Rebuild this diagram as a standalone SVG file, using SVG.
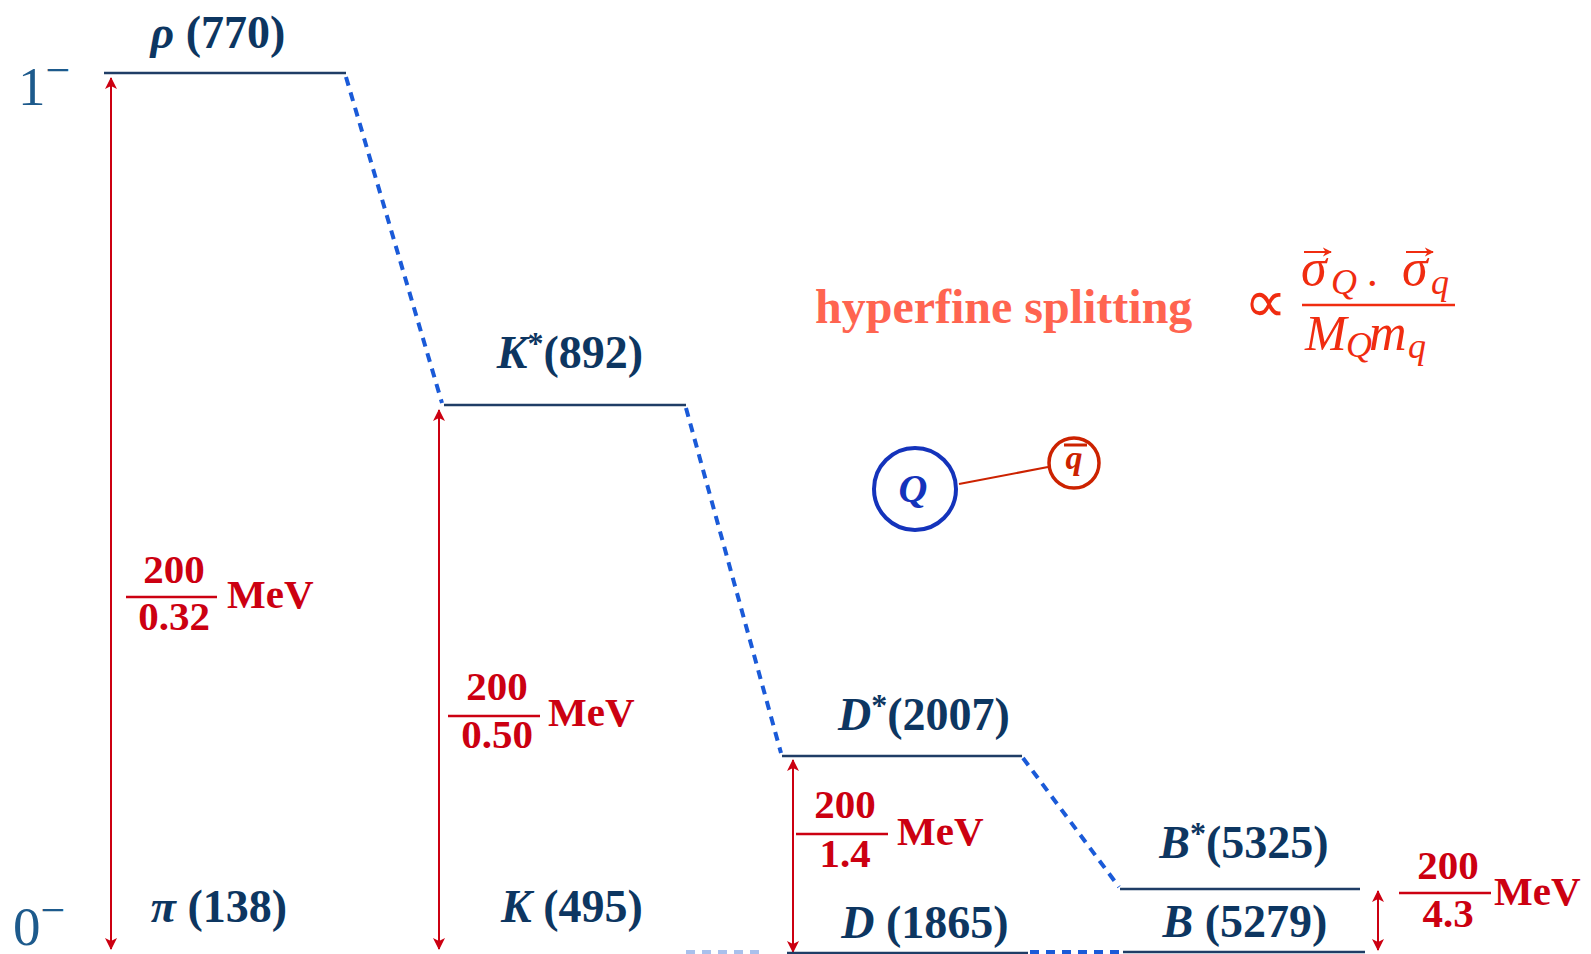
<svg xmlns="http://www.w3.org/2000/svg" width="1591" height="954" viewBox="0 0 1591 954">
<defs>
<marker id="ah" viewBox="0 0 12 12" refX="11" refY="6" markerWidth="12" markerHeight="12" markerUnits="userSpaceOnUse" orient="auto-start-reverse">
<path d="M0,0 L12,6 L0,12 L3,6 Z" fill="#cc0011"/>
</marker>
<marker id="vh" viewBox="0 0 10 10" refX="9" refY="5" markerWidth="9" markerHeight="10" markerUnits="userSpaceOnUse" orient="auto">
<path d="M0,0 L10,5 L0,10 L3,5 Z" fill="#f02c10"/>
</marker>
</defs>
<style>
.lvl{stroke:#1f3d66;stroke-width:2.5;fill:none}
.dash{stroke:#1a5ad8;stroke-width:4;stroke-dasharray:9 7;fill:none}
.lbl{font-family:"Liberation Serif",serif;font-weight:bold;font-size:46px;fill:#0d3661}
.jp{font-family:"Liberation Serif",serif;font-size:55px;fill:#1d5a8c}
.arr{stroke:#cc0011;stroke-width:2;fill:none;marker-start:url(#ah);marker-end:url(#ah)}
.fr{font-family:"Liberation Serif",serif;font-weight:bold;font-size:41px;fill:#cc0011}
.frl{stroke:#cc0011;stroke-width:2.5}
.it{font-style:italic}
.m{font-family:"Liberation Serif",serif;font-style:italic;fill:#f02c10}
.vec{stroke:#f02c10;stroke-width:2;marker-end:url(#vh)}
</style>

<g id="jp-labels">
<text class="jp" x="18" y="105">1<tspan font-size="44" dy="-20">−</tspan></text>
<text class="jp" x="13" y="945">0<tspan font-size="44" dy="-20">−</tspan></text>
</g>

<g id="connectors">
<line class="dash" x1="346" y1="77" x2="442" y2="403"/>
<line class="dash" x1="686" y1="408" x2="781" y2="753"/>
<line class="dash" x1="1023" y1="758" x2="1119" y2="887"/>
<line class="dash" x1="1030" y1="952" x2="1122" y2="952"/>
<line x1="686" y1="952" x2="760" y2="952" stroke="#a9c0ec" stroke-width="4" stroke-dasharray="9 7"/>
<line class="arr" x1="111" y1="78" x2="111" y2="949"/>
<line class="arr" x1="439" y1="410" x2="439" y2="949"/>
<line class="arr" x1="793" y1="760" x2="793" y2="952"/>
<line class="arr" x1="1378" y1="891" x2="1378" y2="950"/>
</g>

<g id="rho">
<line class="lvl" x1="104" y1="73" x2="346" y2="73"/>
<text class="lbl" x="218" y="48" text-anchor="middle"><tspan class="it">ρ</tspan> (770)</text>
</g>
<g id="pi">
<text class="lbl" x="219" y="922" text-anchor="middle"><tspan class="it">π</tspan> (138)</text>
</g>
<g id="kstar">
<line class="lvl" x1="444" y1="405" x2="686" y2="405"/>
<text class="lbl" x="570" y="368" text-anchor="middle"><tspan class="it">K</tspan><tspan font-size="32" dy="-14">*</tspan><tspan dy="14">(892)</tspan></text>
</g>
<g id="k">
<text class="lbl" x="572" y="922" text-anchor="middle"><tspan class="it">K</tspan> (495)</text>
</g>
<g id="dstar">
<line class="lvl" x1="782" y1="756" x2="1022" y2="756"/>
<text class="lbl" x="924" y="730" text-anchor="middle"><tspan class="it">D</tspan><tspan font-size="32" dy="-14">*</tspan><tspan dy="14">(2007)</tspan></text>
</g>
<g id="d">
<line class="lvl" x1="787" y1="953" x2="1028" y2="953"/>
<text class="lbl" x="925" y="938" text-anchor="middle"><tspan class="it">D</tspan> (1865)</text>
</g>
<g id="bstar">
<line class="lvl" x1="1120" y1="889" x2="1360" y2="889"/>
<text class="lbl" x="1244" y="858" text-anchor="middle"><tspan class="it">B</tspan><tspan font-size="32" dy="-14">*</tspan><tspan dy="14">(5325)</tspan></text>
</g>
<g id="b">
<line class="lvl" x1="1123" y1="952" x2="1365" y2="952"/>
<text class="lbl" x="1245" y="937" text-anchor="middle"><tspan class="it">B</tspan> (5279)</text>
</g>

<g id="frac-pi">
<text class="fr" x="174" y="583" text-anchor="middle">200</text>
<line class="frl" x1="126" y1="597" x2="217" y2="597"/>
<text class="fr" x="174" y="630" text-anchor="middle">0.32</text>
<text class="fr" x="227" y="608">MeV</text>
</g>
<g id="frac-k">
<text class="fr" x="497" y="700" text-anchor="middle">200</text>
<line class="frl" x1="448" y1="716" x2="540" y2="716"/>
<text class="fr" x="497" y="748" text-anchor="middle">0.50</text>
<text class="fr" x="548" y="726">MeV</text>
</g>
<g id="frac-d">
<text class="fr" x="845" y="818" text-anchor="middle">200</text>
<line class="frl" x1="796" y1="834" x2="888" y2="834"/>
<text class="fr" x="845" y="867" text-anchor="middle">1.4</text>
<text class="fr" x="897" y="845">MeV</text>
</g>
<g id="frac-b">
<text class="fr" x="1448" y="879" text-anchor="middle" font-size="42">200</text>
<line class="frl" x1="1399" y1="893" x2="1491" y2="893"/>
<text class="fr" x="1448" y="927" text-anchor="middle" font-size="42">4.3</text>
<text class="fr" x="1494" y="905" font-size="43">MeV</text>
</g>

<g id="hyperfine">
<text x="815" y="323" font-family="'Liberation Serif',serif" font-weight="bold" font-size="48" fill="#ff6450">hyperfine splitting</text>
<text x="1244" y="322" font-family="'Liberation Serif',serif" font-size="60" fill="#f02c10">∝</text>
<text class="m" x="1301" y="285" font-size="52">σ</text>
<text class="m" x="1331" y="294" font-size="36">Q</text>
<text x="1365" y="298" font-family="'Liberation Serif',serif" font-size="44" fill="#f02c10">·</text>
<text class="m" x="1402" y="285" font-size="52">σ</text>
<text class="m" x="1431" y="294" font-size="36">q</text>
<line class="vec" x1="1304" y1="252" x2="1331" y2="252"/>
<line class="vec" x1="1406" y1="252" x2="1433" y2="252"/>
<line x1="1302" y1="305" x2="1455" y2="305" stroke="#f02c10" stroke-width="2.5"/>
<text class="m" x="1305" y="350" font-size="50">M</text>
<text class="m" x="1346" y="357" font-size="36">Q</text>
<text class="m" x="1369" y="350" font-size="52">m</text>
<text class="m" x="1408" y="358" font-size="36">q</text>
</g>

<g id="quarks">
<line x1="959" y1="484" x2="1048" y2="467" stroke="#cc2200" stroke-width="2"/>
<g id="Q">
<circle cx="915" cy="489" r="41" fill="none" stroke="#1433bb" stroke-width="4"/>
<text x="913" y="502" text-anchor="middle" font-family="'Liberation Serif',serif" font-weight="bold" font-style="italic" font-size="40" fill="#1433bb">Q</text>
</g>
<g id="qbar">
<circle cx="1074" cy="463" r="25" fill="none" stroke="#cc2200" stroke-width="3.5"/>
<text x="1074" y="469" text-anchor="middle" font-family="'Liberation Serif',serif" font-weight="bold" font-style="italic" font-size="34" fill="#cc2200">q</text>
<line x1="1064" y1="445" x2="1087" y2="445" stroke="#cc2200" stroke-width="3"/>
</g>
</g>
</svg>
